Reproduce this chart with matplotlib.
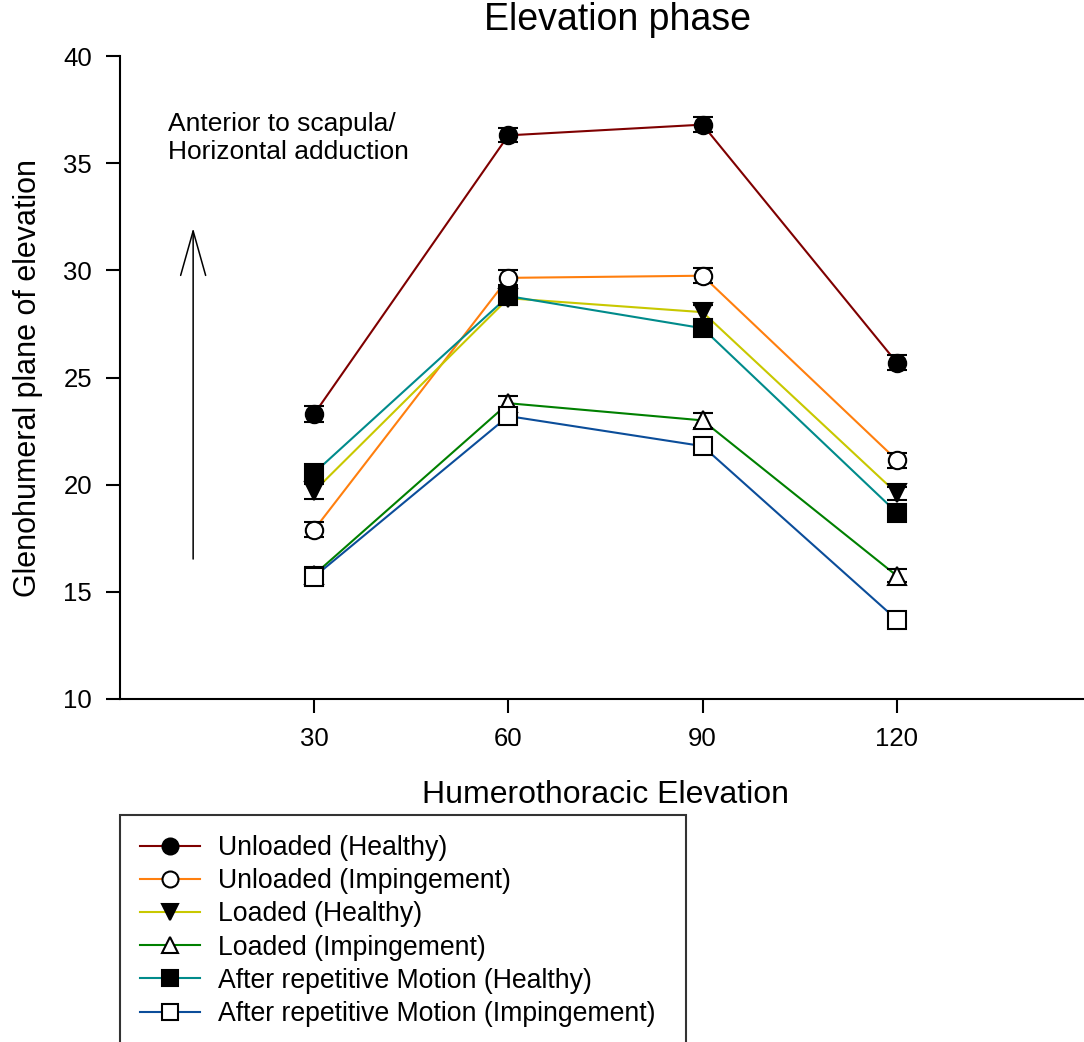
import matplotlib
matplotlib.use('Agg')
import matplotlib.pyplot as plt

plt.rcParams['font.family'] = ['Liberation Sans', 'DejaVu Sans']

# Humerothoracic elevation (deg)
elevation = [30, 60, 90, 120]

# Glenohumeral plane of elevation, mean values per condition
unloaded_healthy = [23.3, 36.3, 36.8, 25.7]
unloaded_imp = [17.9, 29.65, 29.75, 21.15]
loaded_healthy = [19.7, 28.7, 28.05, 19.6]
loaded_imp = [15.8, 23.8, 23.0, 15.75]
after_healthy = [20.55, 28.8, 27.3, 18.7]
after_imp = [15.7, 23.2, 21.8, 13.7]

# error bar half-widths
unloaded_healthy_err = [0.37, 0.33, 0.35, 0.37]
unloaded_imp_err = [0.35, 0.35, 0.35, 0.35]
loaded_healthy_err = [0.35, 0.3, 0.35, 0.3]
loaded_imp_err = [0.35, 0.35, 0.35, 0.3]
after_healthy_err = [0.35, 0.35, 0.35, 0.35]
after_imp_err = [0.35, 0.3, 0.3, 0.3]

labels = ['Unloaded (Healthy)', 'Unloaded (Impingement)', 'Loaded (Healthy)',
          'Loaded (Impingement)', 'After repetitive Motion (Healthy)',
          'After repetitive Motion (Impingement)']
line_colors = ['#7f0000', '#ff7f0e', '#c8c800', '#008000', '#008b8b', '#0b4d9a']
markers = ['o', 'o', 'v', '^', 's', 's']
face_colors = ['black', 'white', 'black', 'white', 'black', 'white']

series = [unloaded_healthy, unloaded_imp, loaded_healthy, loaded_imp, after_healthy, after_imp]
errors = [unloaded_healthy_err, unloaded_imp_err, loaded_healthy_err, loaded_imp_err,
          after_healthy_err, after_imp_err]

fig = plt.figure(figsize=(10.84, 10.42), dpi=100)
ax = fig.add_axes([0.1107, 0.3292, 0.8957, 0.6170])

handles = []
for vals, err, lab, lc, mk, fc in zip(series, errors, labels, line_colors, markers, face_colors):
    # coloured connecting line
    ax.plot(elevation, vals, color=lc, linewidth=1.5, zorder=2)
    # black error bars
    ax.errorbar(elevation, vals, yerr=err, fmt='none', ecolor='black',
                elinewidth=1.5, capsize=7.5, capthick=1.5, zorder=3)
    ax.plot(elevation, vals, linestyle='none', marker=mk, markersize=12.5,
            markerfacecolor=fc, markeredgecolor='black', markeredgewidth=1.5, zorder=4)
    h, = ax.plot([], [], color=lc, linewidth=1.5, marker=mk, markersize=11.5,
                 markerfacecolor=fc, markeredgecolor='black', markeredgewidth=1.5)
    handles.append(h)

ax.set_xlim(0, 150)
ax.set_ylim(10, 40)
ax.set_xticks(elevation)
ax.set_yticks([10, 15, 20, 25, 30, 35, 40])
ax.tick_params(axis='both', direction='out', length=10, width=1.5, labelsize=18.5, pad=10)
ax.spines['right'].set_visible(False)
ax.spines['top'].set_visible(False)
ax.spines['left'].set_linewidth(1.5)
ax.spines['bottom'].set_linewidth(1.5)
ax.set_xlabel('Humerothoracic Elevation', fontsize=23, labelpad=21)
ax.set_ylabel('Glenohumeral plane of elevation', fontsize=22, labelpad=15)

fig.text(0.570, 0.981, 'Elevation phase', fontsize=27, ha='center', va='center')

# direction arrow and note
ax.annotate('', xy=(11.3, 32.1), xytext=(11.3, 16.4),
            arrowprops=dict(arrowstyle='->,head_length=3.2,head_width=0.9',
                            color='black', linewidth=1.1))
ax.text(7.4, 37.37, 'Anterior to scapula/\nHorizontal adduction', fontsize=19,
        va='top', ha='left', linespacing=1.18)

leg = fig.legend(handles=handles, labels=labels, loc='upper left',
                 bbox_to_anchor=(0.1107, 0.0, 0.5221, 0.2179), mode='expand',
                 fontsize=19.2, frameon=True, fancybox=False, edgecolor='black',
                 handlelength=2.25, handletextpad=0.67, labelspacing=0.27,
                 borderpad=0.75, borderaxespad=0)
leg.get_frame().set_linewidth(1.5)

fig.savefig('out.png', dpi=100)
